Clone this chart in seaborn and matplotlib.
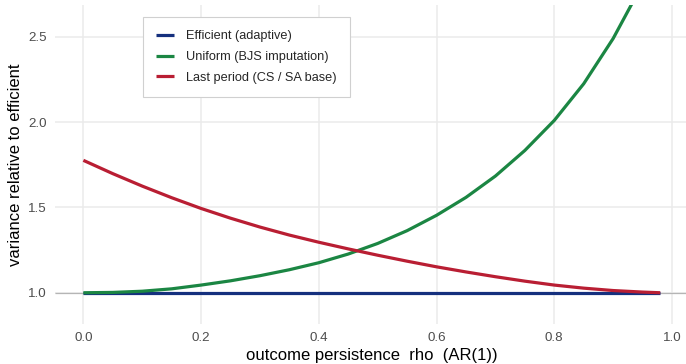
import matplotlib
matplotlib.use("Agg")
import matplotlib.pyplot as plt
import pandas as pd
import seaborn as sns

# outcome persistence (AR(1) coefficient)
rho = [0.00, 0.05, 0.10, 0.15, 0.20, 0.25, 0.30, 0.35, 0.40, 0.45, 0.50,
       0.55, 0.60, 0.65, 0.70, 0.75, 0.80, 0.85, 0.90, 0.95, 0.98]

# variance of each estimator relative to the efficient one
efficient = [1.0] * len(rho)
uniform = [1.000, 1.002, 1.009, 1.023, 1.045, 1.070, 1.100, 1.135, 1.176, 1.227, 1.289,
           1.364, 1.454, 1.559, 1.684, 1.834, 2.010, 2.225, 2.490, 2.810, 3.050]
last_period = [1.776, 1.698, 1.625, 1.557, 1.494, 1.437, 1.385, 1.338, 1.296, 1.257, 1.220,
               1.185, 1.152, 1.122, 1.094, 1.068, 1.045, 1.027, 1.013, 1.004, 1.000]

series_names = ["Efficient (adaptive)", "Uniform (BJS imputation)", "Last period (CS / SA base)"]
series_colors = ["#15307e", "#1b8643", "#b91e33"]

df = pd.concat([
    pd.DataFrame({"rho": rho, "ratio": vals, "estimator": name})
    for name, vals in zip(series_names, [efficient, uniform, last_period])
], ignore_index=True)

sns.set_theme(style="whitegrid")
plt.rcParams["font.family"] = ["Liberation Sans", "DejaVu Sans"]

fig = plt.figure(figsize=(6.86, 3.64), dpi=100)
ax = fig.add_axes([0.0795, 0.109, 0.925, 0.8766])

ax.axhline(1.0, color="#b5b5b5", lw=0.9, zorder=1)

sns.lineplot(data=df, x="rho", y="ratio", hue="estimator", hue_order=series_names,
             palette=series_colors, linewidth=2.3, ax=ax, zorder=3)
for ln in ax.get_lines():
    ln.set_solid_capstyle("butt")
    ln.set_solid_joinstyle("round")

ax.set_xlim(-0.049, 1.029)
ax.set_ylim(0.815, 2.685)
ax.set_xticks([0.0, 0.2, 0.4, 0.6, 0.8, 1.0])
ax.set_yticks([1.0, 1.5, 2.0, 2.5])
ax.set_xticklabels(["0.0", "0.2", "0.4", "0.6", "0.8", "1.0"])
ax.set_yticklabels(["1.0", "1.5", "2.0", "2.5"])

ax.set_facecolor("white")
for s in ax.spines.values():
    s.set_visible(False)
ax.grid(True, color="#ebebeb", linewidth=1.1)
ax.set_axisbelow(True)
ax.tick_params(axis="both", length=0, labelsize=9.6, labelcolor="#4d4d4d")
ax.tick_params(axis="x", pad=5.5)
ax.tick_params(axis="y", pad=5.5)

ax.set_xlabel("outcome persistence  rho  (AR(1))", fontsize=12, color="black", labelpad=3)
ax.set_ylabel("variance relative to efficient", fontsize=12, color="black", labelpad=4)

leg = ax.legend(loc="upper left", bbox_to_anchor=(0.1395, 0.963), borderaxespad=0,
                fontsize=9.2, frameon=True, fancybox=False, handlelength=1.4,
                handletextpad=0.9, borderpad=1.05, labelspacing=0.68, title=None)
leg.get_frame().set_edgecolor("#d0d0d0")
leg.get_frame().set_linewidth(0.8)
leg.get_frame().set_facecolor("white")
leg.get_frame().set_alpha(1.0)
for h in leg.get_lines():
    h.set_linewidth(2.3)
    h.set_solid_capstyle("butt")

fig.savefig("out.png", dpi=100)
